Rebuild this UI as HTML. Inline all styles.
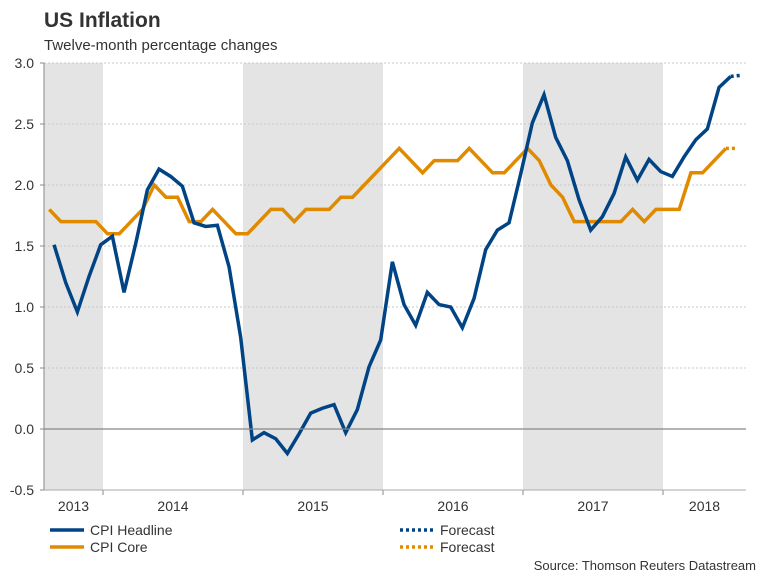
<!DOCTYPE html>
<html><head><meta charset="utf-8">
<style>
body{margin:0;background:#fff;}
svg{display:block;font-family:"Liberation Sans",Arial,sans-serif;}
</style></head>
<body>
<svg id="chart" width="768" height="576" viewBox="0 0 768 576" xmlns="http://www.w3.org/2000/svg">
<text x="44" y="27" font-size="21" font-weight="bold" fill="#333">US Inflation</text>
<text x="44" y="50" font-size="15" fill="#333">Twelve-month percentage changes</text>
<g id="bands"></g><g id="grid"></g><g id="series"></g><g id="axes"></g>
<g>
<line x1="50" y1="530" x2="84" y2="530" stroke="#004485" stroke-width="3.5"/>
<text x="90" y="535" font-size="14" fill="#333">CPI Headline</text>
<line x1="50" y1="547" x2="84" y2="547" stroke="#e08a00" stroke-width="3.5"/>
<text x="90" y="552" font-size="14" fill="#333">CPI Core</text>
<line x1="400" y1="530" x2="434" y2="530" stroke="#004485" stroke-width="3.5" stroke-dasharray="3,3"/>
<text x="440" y="535" font-size="14" fill="#333">Forecast</text>
<line x1="400" y1="547" x2="434" y2="547" stroke="#e08a00" stroke-width="3.5" stroke-dasharray="3,3"/>
<text x="440" y="552" font-size="14" fill="#333">Forecast</text>
</g>
<text x="756" y="570" font-size="13" fill="#333" text-anchor="end">Source: Thomson Reuters Datastream</text>
</svg>
<script>
const years = ["2013","2014","2015","2016","2017","2018"];
const yTicks = [3.0,2.5,2.0,1.5,1.0,0.5,0.0,-0.5];
const headline = [1.51,1.20,0.96,1.25,1.51,1.58,1.12,1.52,1.96,2.13,2.07,1.99,1.69,1.66,1.67,1.33,0.75,-0.09,-0.03,-0.08,-0.20,-0.04,0.13,0.17,0.20,-0.03,0.16,0.51,0.73,1.37,1.02,0.85,1.12,1.02,1.00,0.83,1.07,1.47,1.63,1.69,2.09,2.51,2.74,2.39,2.20,1.88,1.63,1.74,1.93,2.23,2.04,2.21,2.11,2.07,2.23,2.37,2.46,2.80,2.89,2.90];
const core = [1.8,1.7,1.7,1.7,1.7,1.6,1.6,1.7,1.8,2.0,1.9,1.9,1.7,1.7,1.8,1.7,1.6,1.6,1.7,1.8,1.8,1.7,1.8,1.8,1.8,1.9,1.9,2.0,2.1,2.2,2.3,2.2,2.1,2.2,2.2,2.2,2.3,2.2,2.1,2.1,2.2,2.3,2.2,2.0,1.9,1.7,1.7,1.7,1.7,1.7,1.8,1.7,1.8,1.8,1.8,2.1,2.1,2.2,2.3,2.3];
const forecastPoints = 1;

const NS="http://www.w3.org/2000/svg";
const L=44,R=746,T=63,B=490;
const monthW=140/12;
function yS(v){return T+(3.0-v)*(B-T)/3.5;}
function xYear(yi){return 103+(yi-1)*140;}
function xH(i){return L+(i+0.86)*monthW;}
function xC(i){return L+(i+0.45)*monthW;}
function mk(tag,attrs,parent){const e=document.createElementNS(NS,tag);for(const k in attrs)e.setAttribute(k,attrs[k]);parent.appendChild(e);return e;}
const bands=document.getElementById('bands'),grid=document.getElementById('grid'),ser=document.getElementById('series'),axes=document.getElementById('axes');
years.forEach((y,i)=>{
  const x0=Math.max(L,xYear(i)),x1=Math.min(R,xYear(i+1));
  if(i%2===0){
    const r=mk('rect',{x:x0,y:T,width:x1-x0,height:B-T,fill:'#e4e4e4'},bands);
    
    
  }
  const t=mk('text',{x:(x0+x1)/2,y:511,'font-size':14,fill:'#333','text-anchor':'middle'},axes);
  t.textContent=y;
  
  
  if(i>0){const tk=mk('line',{x1:xYear(i),y1:B,x2:xYear(i),y2:B+5,stroke:'#888'},axes);
    
    }
});
yTicks.forEach(v=>{
  const y=yS(v);
  if(v!==0&&v!==-0.5){const g=mk('line',{x1:L,y1:y,x2:R,y2:y,stroke:'#c8c8c8','stroke-dasharray':'2,2'},grid);
    
    }
  const tk=mk('line',{x1:L-4,y1:y,x2:L,y2:y,stroke:'#888'},axes);
  
  
  const t=mk('text',{x:34,y:y+5,'font-size':14,fill:'#333','text-anchor':'end'},axes);
  t.textContent=v.toFixed(1);
  
  
});
const z=mk('line',{x1:L,y1:yS(0),x2:R,y2:yS(0),stroke:'#888','stroke-width':1.2},axes);


const ya=mk('line',{x1:L,y1:T,x2:L,y2:B,stroke:'#888'},axes);


const xa=mk('line',{x1:L,y1:B,x2:R,y2:B,stroke:'#aaa'},axes);


function draw(data,xf,color,name){
  const n=data.length, cut=n-forecastPoints;
  const solid=data.slice(0,cut).map((v,i)=>xf(i)+','+yS(v)).join(' ');
  const fc=data.slice(cut-1).map((v,j)=>xf(cut-1+j)+','+yS(v)).join(' ');
  const p=mk('polyline',{points:solid,fill:'none',stroke:color,'stroke-width':3.5,'stroke-linejoin':'miter'},ser);
  
  
  const f=mk('polyline',{points:fc,fill:'none',stroke:color,'stroke-width':3.5,'stroke-dasharray':'3,3'},ser);
  
  
}
draw(core,xC,'#e08a00','cpi-core');
draw(headline,xH,'#004485','cpi-headline');
</script>
</body></html>
